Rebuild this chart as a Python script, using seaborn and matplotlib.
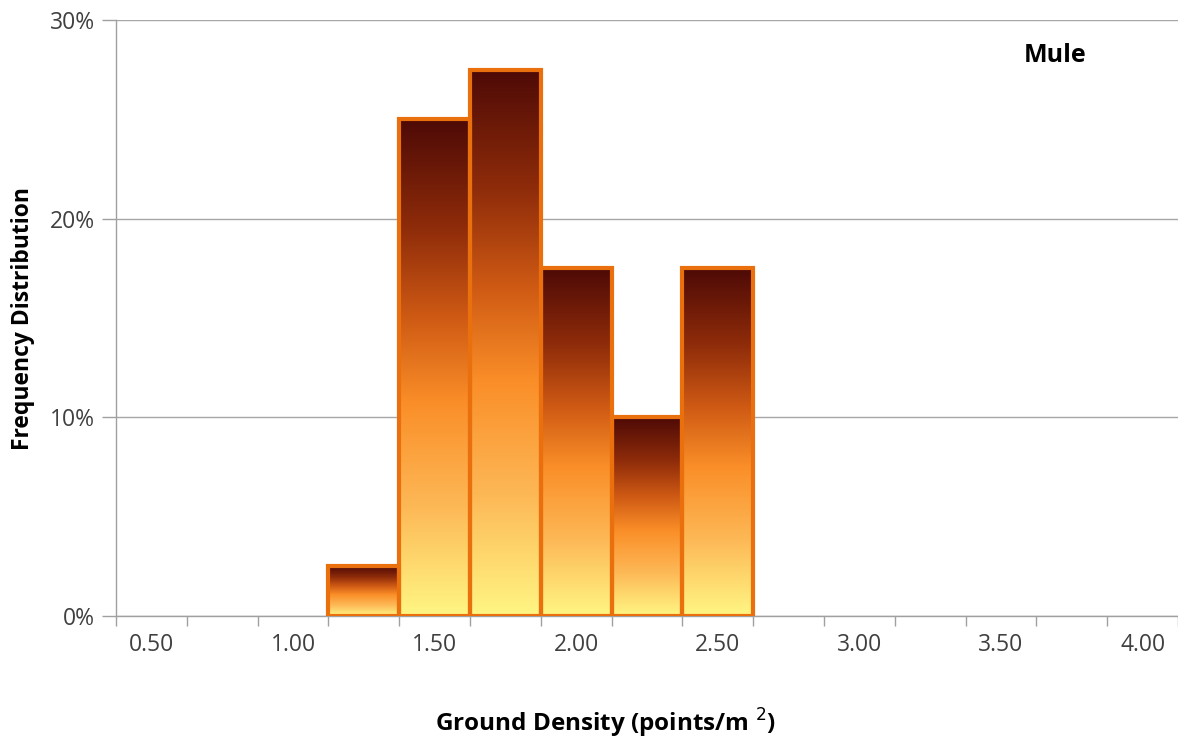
import numpy as np
import pandas as pd
import matplotlib
matplotlib.use("Agg")
import matplotlib.pyplot as plt
from matplotlib.colors import LinearSegmentedColormap
from matplotlib.ticker import PercentFormatter, FixedLocator
import seaborn as sns

# Ground density bins (points/m^2) and share of tiles falling in each bin
density_bins = ["0.50", "0.75", "1.00", "1.25", "1.50", "1.75", "2.00", "2.25",
                "2.50", "2.75", "3.00", "3.25", "3.50", "3.75", "4.00"]
frequency = [0.0, 0.0, 0.0, 0.025, 0.25, 0.275, 0.175, 0.10,
             0.175, 0.0, 0.0, 0.0, 0.0, 0.0, 0.0]
shown_labels = ["0.50", "1.00", "1.50", "2.00", "2.50", "3.00", "3.50", "4.00"]
site_name = "Mule"

df = pd.DataFrame({"bin": density_bins, "freq": frequency})

sns.set_theme(style="white")
plt.rcParams["font.family"] = ["Open Sans", "DejaVu Sans"]

fig = plt.figure(figsize=(11.78, 7.39), dpi=100)
ax = fig.add_axes([0.0985, 0.1664, 0.9015, 0.8065])

sns.barplot(data=df, x="bin", y="freq", order=density_bins, width=1.0,
            color="#fa8e28", edgecolor="#e9700c", linewidth=3.0, ax=ax,
            zorder=3)

# Vertical fire gradient inside each bar: dark brown top -> orange -> pale yellow
fire = LinearSegmentedColormap.from_list("fire", [
    (0.00, "#4e0a06"), (0.22, "#8f2c0a"), (0.40, "#cf5a14"),
    (0.57, "#fa8e28"), (0.78, "#fdb856"), (1.00, "#fff684")])
grad = np.linspace(0, 1, 256).reshape(-1, 1)
for patch in list(ax.patches):
    h = patch.get_height()
    if h <= 0:
        patch.set_visible(False)
        continue
    patch.set_facecolor("none")
    x0 = patch.get_x()
    w = patch.get_width()
    im = ax.imshow(grad, cmap=fire, aspect="auto", origin="upper",
                   extent=(x0, x0 + w, 0, h), zorder=2.5,
                   interpolation="bilinear")
    im.set_clip_path(patch)

ax.set_xlim(-0.5, len(density_bins) - 0.5)
ax.set_ylim(0, 0.30)
ax.set_aspect("auto")
ax.yaxis.set_major_locator(FixedLocator([0, 0.1, 0.2, 0.3]))
ax.yaxis.set_major_formatter(PercentFormatter(1.0, decimals=0))

# Labels on every other bin; tick marks on bin boundaries
label_pos = [density_bins.index(s) for s in shown_labels]
ax.set_xticks(label_pos)
ax.set_xticklabels(shown_labels)
ax.set_xticks(np.arange(-0.5, len(density_bins), 1.0), minor=True)
ax.tick_params(axis="x", which="major", length=0, pad=12, labelsize=16.5,
               labelcolor="#404040")
ax.tick_params(axis="x", which="minor", length=7, width=1, color="#a0a0a0",
               direction="out", bottom=True)
ax.tick_params(axis="y", which="major", length=10, width=1, color="#a0a0a0",
               direction="out", left=True, pad=5, labelsize=16.5,
               labelcolor="#404040")

ax.grid(axis="y", color="#a6a6a6", linewidth=1, zorder=0)
ax.grid(axis="x", visible=False)
ax.set_axisbelow(True)
for side in ("top", "right"):
    ax.spines[side].set_visible(False)
for side in ("left", "bottom"):
    ax.spines[side].set_color("#a0a0a0")
    ax.spines[side].set_linewidth(1)

ax.set_xlabel("Ground Density (points/m $^{2}$)", fontsize=17.5,
              fontweight="bold", color="black")
ax.xaxis.set_label_coords(0.4605, -0.152)
ax.set_ylabel("Frequency Distribution", fontsize=16.5, fontweight="bold",
              labelpad=11, color="black")

ax.text(0.884, 0.941, site_name, transform=ax.transAxes, fontsize=18,
        fontweight="bold", ha="center", va="center", color="black")

fig.savefig("out.png", dpi=100, facecolor="white")
